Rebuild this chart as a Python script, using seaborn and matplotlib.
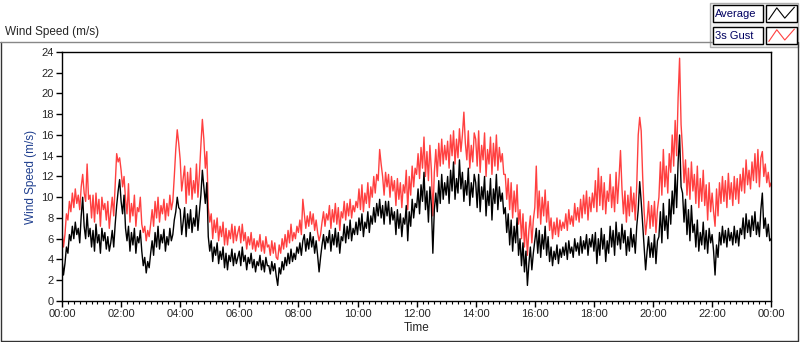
import numpy as np
import pandas as pd
import matplotlib
matplotlib.use("Agg")
import matplotlib.pyplot as plt
import seaborn as sns
from matplotlib.lines import Line2D
from matplotlib.patches import Rectangle
from matplotlib.ticker import MultipleLocator, FuncFormatter

# 3-minute samples, one row per hour (m/s), plus the 24:00 end point
average = [
    4.0, 2.5, 3.6, 5.2, 4.6, 6.4, 5.8, 7.2, 6.0, 7.6, 6.4, 7.0, 5.6, 8.2, 10.0, 7.2, 6.0, 8.4, 6.2, 7.0,
    5.2, 6.8, 4.8, 7.4, 5.6, 6.4, 4.6, 7.0, 5.8, 6.6, 5.0, 6.2, 4.8, 5.6, 6.8, 5.2, 7.4, 9.2, 10.6, 11.7,
    9.6, 8.4, 10.2, 7.0, 5.8, 7.2, 4.8, 6.6, 5.4, 7.0, 4.6, 6.2, 5.6, 6.8, 4.8, 3.4, 4.2, 2.7, 3.8, 3.2,
    4.6, 5.8, 4.4, 6.6, 5.2, 7.2, 5.0, 6.4, 5.6, 6.9, 4.8, 6.2, 5.4, 7.0, 5.8, 6.4, 7.8, 8.6, 10.0, 9.0,
    8.8, 6.4, 7.6, 9.0, 6.2, 8.4, 7.0, 8.8, 6.6, 8.0, 7.2, 9.2, 6.8, 8.6, 10.2, 12.6, 11.0, 9.4, 11.4, 6.2,
    4.8, 5.8, 3.8, 5.2, 4.4, 5.6, 3.6, 4.8, 4.0, 5.2, 3.2, 4.6, 3.0, 4.4, 3.8, 5.0, 3.4, 4.6, 3.6, 4.2,
    4.8, 3.4, 5.2, 3.8, 4.4, 3.0, 4.2, 3.6, 4.6, 3.2, 4.0, 2.8, 3.8, 3.4, 4.4, 3.0, 3.9, 2.8, 4.2, 3.4,
    3.4, 2.6, 3.8, 2.9, 3.6, 2.4, 1.5, 3.2, 2.6, 3.8, 3.0, 4.2, 3.4, 4.6, 3.6, 5.0, 3.8, 4.6, 4.0, 5.2,
    4.6, 5.6, 4.4, 5.8, 6.4, 4.8, 6.0, 5.0, 6.6, 5.2, 6.2, 4.6, 5.8, 4.4, 2.8, 4.2, 5.4, 6.4, 5.0, 6.2,
    5.6, 6.8, 4.8, 6.4, 5.4, 7.0, 5.2, 6.6, 4.6, 6.2, 5.8, 7.4, 5.6, 7.2, 6.0, 7.8, 5.8, 7.0, 6.4, 7.6,
    6.4, 8.0, 6.8, 8.4, 6.2, 7.6, 7.0, 8.6, 6.6, 8.2, 7.4, 9.0, 7.6, 9.4, 8.2, 9.8, 8.0, 9.2, 7.4, 9.6,
    8.2, 9.6, 7.4, 9.0, 7.8, 8.6, 6.4, 8.8, 7.0, 8.4, 6.2, 8.0, 7.4, 9.2, 5.8, 8.6, 7.2, 9.8, 8.0, 9.4,
    9.0, 10.8, 8.4, 11.2, 9.6, 12.4, 8.8, 10.6, 7.6, 11.0, 9.2, 4.6, 8.8, 10.4, 8.6, 11.6, 9.4, 12.2, 9.8, 11.4,
    10.2, 12.0, 9.4, 12.6, 10.6, 13.4, 9.8, 11.8, 10.4, 13.6, 10.8, 12.4, 9.6, 11.6, 10.2, 12.8, 9.2, 11.4, 10.0, 12.2,
    11.4, 9.0, 12.2, 8.6, 11.0, 9.8, 12.0, 8.2, 10.6, 9.2, 11.8, 7.8, 10.8, 9.4, 12.2, 8.8, 11.0, 9.6, 10.4, 8.4,
    9.0, 6.6, 8.4, 5.4, 7.8, 4.8, 7.2, 5.6, 8.0, 4.4, 6.0, 3.4, 5.6, 2.8, 4.8, 1.5, 3.6, 5.2, 3.0, 4.6,
    5.8, 7.0, 4.6, 6.8, 4.2, 6.4, 5.0, 7.2, 4.4, 6.2, 3.8, 5.2, 3.4, 4.8, 4.0, 5.4, 3.6, 5.0, 4.2, 5.2,
    4.4, 5.6, 4.0, 5.8, 4.6, 5.2, 4.2, 6.0, 4.8, 5.6, 4.4, 6.2, 4.6, 5.8, 5.0, 6.4, 4.4, 6.0, 5.2, 6.4,
    4.8, 6.6, 3.6, 6.0, 4.4, 7.0, 5.0, 6.4, 3.8, 5.8, 4.6, 7.2, 5.2, 6.8, 4.4, 7.6, 5.4, 6.6, 5.0, 7.4,
    5.6, 6.8, 4.4, 6.2, 4.8, 7.0, 5.2, 6.4, 4.6, 7.2, 8.8, 11.5, 9.6, 7.4, 5.2, 3.0, 4.8, 6.2, 4.2, 5.6,
    4.2, 6.4, 3.6, 5.8, 6.2, 8.6, 5.6, 9.4, 6.8, 8.2, 6.0, 9.8, 7.4, 10.6, 8.4, 12.2, 9.0, 13.4, 16.0, 11.0,
    10.4, 7.6, 9.8, 6.4, 8.8, 5.8, 9.2, 6.6, 7.4, 5.2, 7.8, 4.8, 6.6, 5.4, 7.6, 5.0, 6.8, 4.6, 7.0, 5.6,
    6.4, 4.8, 2.5, 5.4, 4.2, 6.6, 5.4, 7.2, 5.6, 6.8, 5.2, 7.0, 5.8, 6.6, 5.4, 7.2, 5.6, 6.8, 5.3, 7.0,
    6.4, 8.0, 6.0, 8.4, 6.6, 7.8, 6.2, 8.2, 6.8, 8.6, 6.4, 7.6, 6.2, 8.8, 10.4, 7.0, 8.0, 6.2, 7.4, 5.8,
    6.0,
]
gust = [
    6.8, 5.2, 6.4, 8.4, 7.8, 9.6, 8.6, 10.4, 9.0, 10.8, 9.4, 10.2, 8.8, 11.0, 12.2, 10.4, 9.6, 13.2, 9.8, 10.2,
    8.0, 10.2, 7.6, 10.4, 8.4, 9.8, 7.2, 10.0, 8.8, 9.4, 7.8, 9.6, 7.0, 8.6, 10.0, 8.2, 11.2, 14.2, 13.4, 13.8,
    12.6, 11.0, 12.0, 9.8, 8.4, 11.3, 7.6, 9.4, 8.2, 10.2, 7.2, 9.0, 8.6, 10.0, 7.4, 6.6, 7.2, 5.8, 6.8, 6.2,
    7.4, 8.8, 7.2, 9.6, 8.0, 10.0, 7.6, 9.2, 8.4, 9.8, 7.8, 9.4, 8.2, 10.2, 8.8, 9.6, 12.0, 14.6, 16.5, 15.2,
    13.6, 10.6, 11.8, 13.0, 9.4, 12.4, 10.2, 12.8, 9.8, 11.6, 10.4, 13.2, 10.0, 12.2, 15.0, 17.5, 15.6, 12.8, 14.4, 9.0,
    7.6, 8.4, 6.0, 7.8, 6.6, 8.0, 5.8, 7.2, 6.2, 7.6, 5.4, 7.0, 5.4, 6.8, 6.0, 7.4, 5.6, 7.2, 5.8, 6.6,
    7.2, 5.6, 7.4, 5.8, 6.6, 5.0, 6.2, 5.4, 6.6, 5.0, 6.0, 4.8, 5.8, 5.2, 6.4, 4.8, 5.8, 4.6, 6.2, 5.2,
    5.4, 4.4, 5.8, 4.6, 5.6, 4.2, 4.0, 5.4, 4.6, 6.0, 5.0, 6.4, 5.2, 6.8, 5.6, 7.4, 5.8, 6.6, 6.0, 7.2,
    6.6, 7.8, 6.4, 9.8, 8.4, 7.0, 8.2, 7.2, 8.6, 7.4, 8.4, 6.8, 7.8, 6.6, 5.8, 6.4, 7.6, 8.6, 7.2, 8.4,
    7.8, 9.2, 7.0, 8.8, 7.6, 9.4, 7.4, 9.0, 6.8, 8.6, 8.0, 9.6, 7.8, 9.4, 8.2, 9.8, 8.0, 9.2, 8.6, 9.6,
    9.0, 10.8, 8.8, 11.2, 8.6, 10.4, 9.4, 11.4, 9.0, 11.0, 10.0, 12.0, 10.4, 12.2, 11.6, 14.6, 13.2, 12.0, 10.2, 12.4,
    11.0, 12.2, 10.0, 12.0, 10.6, 11.6, 9.2, 11.8, 9.8, 11.4, 9.0, 11.2, 10.4, 12.6, 8.8, 12.0, 10.2, 13.0, 11.0, 12.8,
    12.2, 14.2, 11.8, 14.8, 12.8, 15.8, 12.0, 14.4, 11.6, 15.0, 12.6, 8.2, 12.4, 14.6, 12.0, 15.2, 13.0, 15.6, 13.2, 15.0,
    13.6, 15.4, 12.8, 16.0, 14.0, 16.4, 13.2, 15.6, 13.8, 16.6, 14.4, 16.0, 18.2, 15.2, 13.6, 16.4, 12.8, 15.0, 13.4, 16.2,
    15.6, 13.0, 16.4, 12.4, 15.0, 13.6, 16.2, 12.0, 14.6, 13.2, 15.8, 12.2, 15.2, 13.0, 16.0, 12.6, 14.8, 13.4, 14.2, 12.2,
    12.2, 9.8, 11.8, 8.8, 11.4, 8.0, 10.6, 8.6, 11.2, 7.4, 8.8, 6.0, 8.4, 5.2, 7.6, 4.4, 6.8, 8.2, 5.6, 7.8,
    9.0, 13.0, 8.0, 10.6, 7.4, 10.0, 8.2, 10.7, 7.6, 9.6, 6.8, 8.0, 6.0, 7.6, 6.4, 8.0, 6.2, 7.8, 6.8, 7.6,
    7.0, 8.4, 6.8, 8.8, 7.4, 8.2, 7.2, 9.4, 7.8, 9.0, 7.6, 9.8, 8.0, 10.2, 8.4, 10.6, 7.8, 10.0, 8.6, 10.4,
    9.0, 11.6, 8.6, 12.8, 9.2, 12.0, 8.8, 11.4, 8.4, 10.6, 9.6, 12.2, 9.0, 11.0, 8.6, 12.4, 9.4, 11.8, 14.5, 10.8,
    8.4, 10.6, 7.6, 10.2, 8.2, 11.0, 8.6, 10.4, 7.8, 11.2, 16.0, 17.7, 16.4, 12.0, 8.6, 6.4, 7.8, 9.6, 7.0, 9.2,
    7.2, 9.6, 6.6, 8.8, 10.0, 13.4, 10.2, 14.6, 11.0, 13.0, 10.4, 14.2, 12.4, 16.0, 13.0, 17.4, 14.0, 19.6, 23.4, 17.0,
    14.6, 11.4, 13.6, 10.2, 12.8, 9.8, 13.4, 10.6, 12.2, 9.4, 13.0, 9.0, 11.8, 9.6, 12.6, 9.2, 11.2, 7.8, 11.4, 8.6,
    10.4, 8.6, 7.2, 10.8, 8.2, 11.4, 9.4, 12.0, 9.6, 11.6, 9.0, 12.3, 9.8, 11.4, 9.2, 12.0, 9.8, 11.8, 9.4, 12.2,
    10.6, 12.8, 10.4, 13.6, 11.2, 12.6, 10.8, 13.4, 11.6, 14.2, 11.4, 14.6, 11.0, 13.8, 14.4, 12.0, 13.2, 11.4, 12.4, 11.0,
    11.4,
]
assert len(average) == len(gust) == 481
hours = np.arange(len(average)) / 20.0
df = pd.DataFrame({"hour": hours, "Average": average, "3s Gust": gust})

sns.set_style("white")
plt.rcParams["font.family"] = ["Liberation Sans", "DejaVu Sans"]

fig = plt.figure(figsize=(8, 3.42), dpi=100)
ax = fig.add_axes([0.0775, 0.12, 0.8865, 0.728])

sns.lineplot(data=df, x="hour", y="3s Gust", color="#ff4040", lw=1, ax=ax)
sns.lineplot(data=df, x="hour", y="Average", color="black", lw=1, ax=ax)

ax.set_xlim(0, 24)
ax.set_ylim(0, 24)
ax.xaxis.set_major_locator(MultipleLocator(2))
ax.xaxis.set_minor_locator(MultipleLocator(0.2))
ax.xaxis.set_major_formatter(FuncFormatter(lambda v, p: f"{int(round(v)) % 24:02d}:00"))
ax.yaxis.set_major_locator(MultipleLocator(2))
ax.tick_params(axis="both", which="major", direction="out", length=4, width=1,
               labelsize=8, color="black", pad=2)
ax.tick_params(axis="x", which="minor", direction="out", length=2.5, width=0.8, color="black")
ax.tick_params(bottom=True, left=True, which="both")
ax.tick_params(left=False, which="minor")
for s in ax.spines.values():
    s.set_color("black")
    s.set_linewidth(1)
ax.set_xlabel("Time", fontsize=8.5, labelpad=2)
ax.set_ylabel("Wind Speed (m/s)", fontsize=8.5, color="#1f3f8f", labelpad=3)

# outer frame and title
fig.add_artist(Line2D([0.001, 0.001, 0.997, 0.997], [0.877, 0.004, 0.004, 0.877],
                      transform=fig.transFigure, color="#333333", lw=1))
fig.add_artist(Line2D([0.0, 0.89], [0.877, 0.877], transform=fig.transFigure,
                      color="#888888", lw=1))
fig.text(0.006, 0.905, "Wind Speed (m/s)", fontsize=8.5, va="center")

# legend panel
fig.add_artist(Rectangle((0.888, 0.862), 0.11, 0.13, transform=fig.transFigure,
                         facecolor="#f0f0f0", edgecolor="#b0b0b0", lw=1))
for row, (name, col) in enumerate([("Average", "black"), ("3s Gust", "#ff4040")]):
    y0 = 0.935 - row * 0.064
    fig.add_artist(Rectangle((0.891, y0), 0.063, 0.05, transform=fig.transFigure,
                             facecolor="white", edgecolor="black", lw=1))
    fig.text(0.894, y0 + 0.025, name, fontsize=8, va="center", color="#000060")
    fig.add_artist(Rectangle((0.958, y0), 0.038, 0.05, transform=fig.transFigure,
                             facecolor="white", edgecolor="black", lw=1))
    fig.add_artist(Line2D([0.961, 0.971, 0.981, 0.993], [y0 + 0.008, y0 + 0.042, y0 + 0.012, y0 + 0.044],
                          transform=fig.transFigure, color=col, lw=0.8))

fig.savefig("out.png", dpi=100)
